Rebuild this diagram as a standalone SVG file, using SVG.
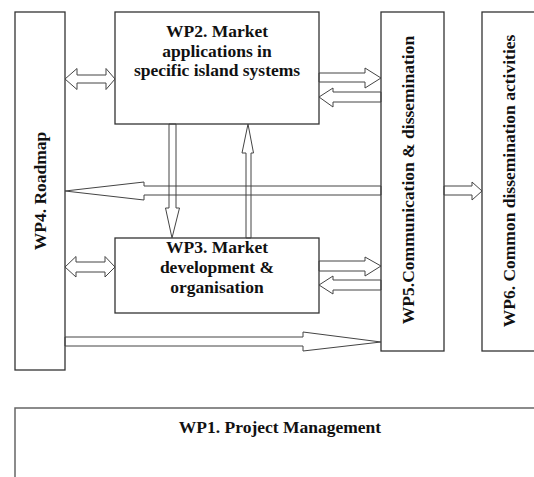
<svg xmlns="http://www.w3.org/2000/svg" width="534" height="477" viewBox="0 0 534 477">
<style>
.box{fill:#fff;stroke:#333;stroke-width:1.3}
.gbox{fill:#fff;stroke:#666;stroke-width:1.5}
.arr{fill:none;stroke:#444;stroke-width:1}
.t{font-family:'Liberation Serif','Times New Roman',Tinos,'DejaVu Serif',serif;font-weight:bold;font-size:17.5px;fill:#111}
</style>
<rect width="534" height="477" fill="#fff"/>
<g id="wp1"><rect class="gbox" x="15" y="408" width="530" height="80"/><text class="t" font-family="Liberation Serif, serif" x="280" y="433" text-anchor="middle">WP1. Project Management</text></g>
<g id="wp4"><rect class="box" x="15" y="12" width="50" height="358"/><text class="t" font-family="Liberation Serif, serif" transform="translate(46,191) rotate(-90)" text-anchor="middle">WP4. Roadmap</text></g>
<g id="wp2"><rect class="box" x="115" y="12" width="204" height="112"/>
<text class="t" font-family="Liberation Serif, serif" x="217" y="37" text-anchor="middle">WP2. Market</text>
<text class="t" font-family="Liberation Serif, serif" x="217" y="56.5" text-anchor="middle">applications in</text>
<text class="t" font-family="Liberation Serif, serif" x="217" y="76" text-anchor="middle">specific island systems</text></g>
<g id="wp3"><rect class="box" x="115" y="238" width="204" height="75"/>
<text class="t" font-family="Liberation Serif, serif" x="217" y="253" text-anchor="middle">WP3. Market</text>
<text class="t" font-family="Liberation Serif, serif" x="217" y="273" text-anchor="middle">development &amp;</text>
<text class="t" font-family="Liberation Serif, serif" x="217" y="293" text-anchor="middle">organisation</text></g>
<g id="wp5"><rect class="box" x="381" y="12" width="63" height="339"/><text class="t" font-family="Liberation Serif, serif" transform="translate(414,180) rotate(-90)" text-anchor="middle">WP5.Communication &amp; dissemination</text></g>
<g id="wp6"><rect class="box" x="482" y="12" width="60" height="339"/><text class="t" font-family="Liberation Serif, serif" transform="translate(515,181) rotate(-90)" text-anchor="middle">WP6. Common dissemination activities</text></g>
<g id="connectors">
<polygon class="arr" points="65,79 77,68.5 77,75 106,75 106,68.5 115,79 106,89.5 106,83 77,83 77,89.5"/>
<polygon class="arr" points="65,267 76,256.5 76,262 105,262 105,256.5 115,267 105,277 105,272 76,272 76,277"/>
<polygon class="arr" points="319,73 365,73 365,68 381,78 365,88 365,82 319,82"/>
<polygon class="arr" points="381,92 333,92 333,88 319,97 333,107 333,102 381,102"/>
<polygon class="arr" points="319,261 365,261 365,257 381,266 365,276 365,271 319,271"/>
<polygon class="arr" points="381,280 333,280 333,276 319,285 333,294 333,290 381,290"/>
<polygon class="arr" points="169,124 169,208 165.5,208 172,238 179.5,208 176,208 176,124"/>
<polygon class="arr" points="246,238 246,153 242,153 248,124 253.5,153 251,153 251,238"/>
<polygon class="arr" points="381,186 144,186 144,182 65,191 144,200 144,195 381,195"/>
<polygon class="arr" points="444,186 472,186 472,182 482,191 472,200 472,195 444,195"/>
<polygon class="arr" points="65,337 303,337 303,332 381,342 303,351 303,346 65,346"/>
</g>
</svg>
